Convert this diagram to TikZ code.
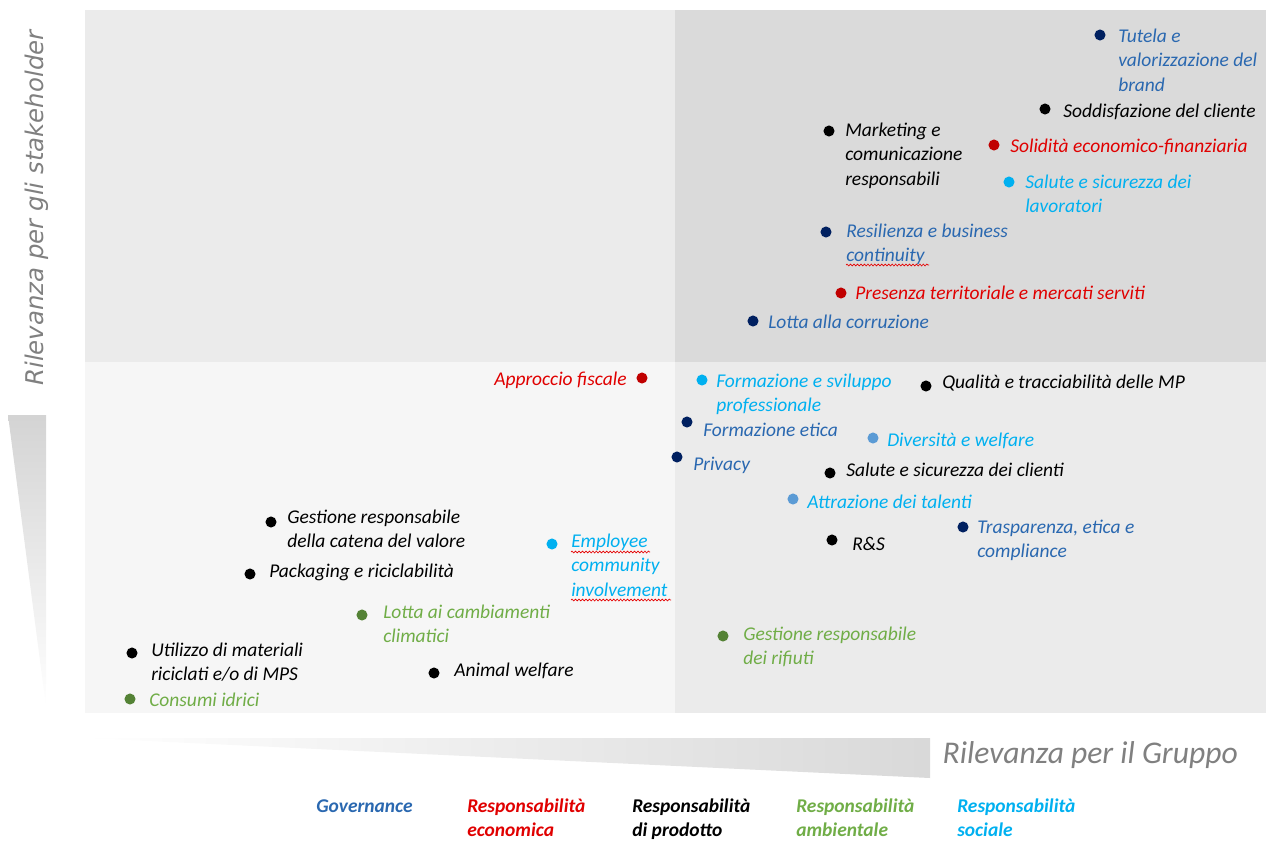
\documentclass[tikz,border=0pt]{standalone}
\usepackage{fontspec}
\setmainfont{Carlito}
\newfontfamily\axisfont{DejaVu Sans}
\usetikzlibrary{positioning,decorations.pathmorphing}

\definecolor{govtext}{HTML}{2A68B0}
\definecolor{govdot}{HTML}{002060}
\definecolor{ecotext}{HTML}{E00000}
\definecolor{ecodot}{HTML}{C00000}
\definecolor{envtext}{HTML}{70AD47}
\definecolor{envdot}{HTML}{548235}
\definecolor{soctext}{HTML}{00B0F0}
\definecolor{socdot}{HTML}{5B9BD5}
\definecolor{axisgray}{HTML}{808080}
\definecolor{quadlight}{HTML}{F6F6F6}
\definecolor{quadmid}{HTML}{EBEBEB}
\definecolor{quaddark}{HTML}{DADADA}

\tikzset{
  dot/.style={circle, fill=#1, inner sep=0pt, minimum size=8.3pt},
  topic/.style={font=\itshape\fontsize{14.6}{18.4}\selectfont, text=#1,
    inner sep=0pt, anchor=base west, align=flush left},
  lines/.style={text width=5.5cm},
  legend/.style={font=\bfseries\itshape\fontsize{14.6}{18.4}\selectfont, text=#1,
    inner sep=0pt, anchor=base west, align=flush left, text width=3.5cm},
  spell/.style={red!90!black, line width=0.5pt, decorate,
    decoration={snake, amplitude=0.7pt, segment length=2.6pt}}
}

\begin{document}
\begin{tikzpicture}[x=0.75pt, y=-0.75pt]
  \useasboundingbox (0,0) rectangle (1271,843);

  % ====== QUADRANTS ======
  \fill[quadmid]   (85,10)   rectangle (675,362);
  \fill[quaddark]  (675,10)  rectangle (1266,362);
  \fill[quadlight] (85,362)  rectangle (675,713);
  \fill[quadmid]   (675,362) rectangle (1266,713);

  % ====== AXES ======
  % Vertical wedge
  \shade[top color=black!17, bottom color=white]
    (8,415) -- (46,415) -- (46,707) -- cycle;
  \node[font=\axisfont\itshape\fontsize{18.3}{22}\selectfont, text=axisgray, rotate=90]
    (ylabel) at (37,208) {Rilevanza per gli stakeholder};

  % Horizontal wedge
  \shade[left color=white, right color=black!15]
    (84,738) -- (930,738) -- (930,778) -- cycle;
  \node[font=\itshape\fontsize{23.7}{28}\selectfont, text=axisgray, anchor=west]
    (xlabel) at (938,755) {Rilevanza per il Gruppo};

  % ====== HIGH / HIGH ======
  \node[dot=govdot] (tutelaDot) at (1100,35) {};
  \node[topic=govtext, lines] (tutela) at (1118,42) {Tutela e\\valorizzazione del\\brand};

  \node[dot=black] (clienteDot) at (1045,109) {};
  \node[topic=black] (cliente) at (1063,117) {Soddisfazione del cliente};

  \node[dot=black] (marketingDot) at (829,131) {};
  \node[topic=black, lines] (marketing) at (845,136) {Marketing e\\comunicazione\\responsabili};

  \node[dot=ecodot] (soliditaDot) at (994,145) {};
  \node[topic=ecotext] (solidita) at (1010,152) {Solidità economico-finanziaria};

  \node[dot=soctext] (lavoratoriDot) at (1009,182) {};
  \node[topic=soctext, lines] (lavoratori) at (1025,188) {Salute e sicurezza dei\\lavoratori};

  \node[dot=govdot] (resilienzaDot) at (826,232) {};
  \node[topic=govtext, lines] (resilienza) at (846,237) {Resilienza e business\\continuity};
  \draw[spell] (846,265) -- (929,265);

  \node[dot=ecodot] (presenzaDot) at (841,293) {};
  \node[topic=ecotext] (presenza) at (855,299) {Presenza territoriale e mercati serviti};

  \node[dot=govdot] (corruzioneDot) at (753,321) {};
  \node[topic=govtext] (corruzione) at (768,328) {Lotta alla corruzione};

  % ====== MIDDLE ======
  \node[dot=ecodot] (fiscaleDot) at (642,378) {};
  \node[topic=ecotext, anchor=base east] (fiscale) at (627,385) {Approccio fiscale};

  \node[dot=soctext] (formazioneDot) at (702,380) {};
  \node[topic=soctext, lines] (formazione) at (716,387) {Formazione e sviluppo\\professionale};

  \node[dot=black] (qualitaDot) at (926,386) {};
  \node[topic=black] (qualita) at (942,388) {Qualità e tracciabilità delle MP};

  \node[dot=govdot] (eticaDot) at (687,422) {};
  \node[topic=govtext] (etica) at (703,436) {Formazione etica};

  \node[dot=socdot] (diversitaDot) at (873,438) {};
  \node[topic=soctext] (diversita) at (887,446) {Diversità e welfare};

  \node[dot=govdot] (privacyDot) at (677,457) {};
  \node[topic=govtext] (privacy) at (693,470) {Privacy};

  \node[dot=black] (clientiDot) at (830,473) {};
  \node[topic=black] (clienti) at (846,476) {Salute e sicurezza dei clienti};

  \node[dot=socdot] (talentiDot) at (793,499) {};
  \node[topic=soctext] (talenti) at (807,508) {Attrazione dei talenti};

  \node[dot=govdot] (trasparenzaDot) at (963,527) {};
  \node[topic=govtext, lines] (trasparenza) at (977,533) {Trasparenza, etica e\\compliance};

  \node[dot=black] (rsDot) at (832,540) {};
  \node[topic=black] (rs) at (852,550) {R\&S};

  \node[dot=envdot] (rifiutiDot) at (723,636) {};
  \node[topic=envtext, lines] (rifiuti) at (743,640) {Gestione responsabile\\dei rifiuti};

  % ====== LOW / LOW ======
  \node[dot=black] (catenaDot) at (271,522) {};
  \node[topic=black, lines] (catena) at (287,523) {Gestione responsabile\\della catena del valore};

  \node[dot=soctext] (employeeDot) at (552,544) {};
  \node[topic=soctext, lines] (employee) at (571,547) {Employee\\community\\involvement};
  \draw[spell] (571,552) -- (650,552);
  \draw[spell] (571,600) -- (671,600);

  \node[dot=black] (packagingDot) at (250,574) {};
  \node[topic=black] (packaging) at (269,577) {Packaging e riciclabilità};

  \node[dot=envdot] (climaDot) at (362,615) {};
  \node[topic=envtext, lines] (clima) at (383,618) {Lotta ai cambiamenti\\climatici};

  \node[dot=black] (materialiDot) at (132,653) {};
  \node[topic=black, lines] (materiali) at (151,656) {Utilizzo di materiali\\riciclati e/o di MPS};

  \node[dot=black] (animalDot) at (434,673) {};
  \node[topic=black] (animal) at (454,676) {Animal welfare};

  \node[dot=envdot] (idriciDot) at (130,699) {};
  \node[topic=envtext] (idrici) at (149,706) {Consumi idrici};

  % ====== LEGEND ======
  \foreach \lx/\lname/\lcol/\ltext in {
      316/gov/govtext/{Governance},
      467/eco/ecotext/{Responsabilità\\economica},
      632/prod/black/{Responsabilità\\di prodotto},
      796/env/envtext/{Responsabilità\\ambientale},
      957/soc/soctext/{Responsabilità\\sociale}} {
    \node[legend=\lcol] (legend-\lname) at (\lx,812) {\ltext};
  }

\end{tikzpicture}
\end{document}
